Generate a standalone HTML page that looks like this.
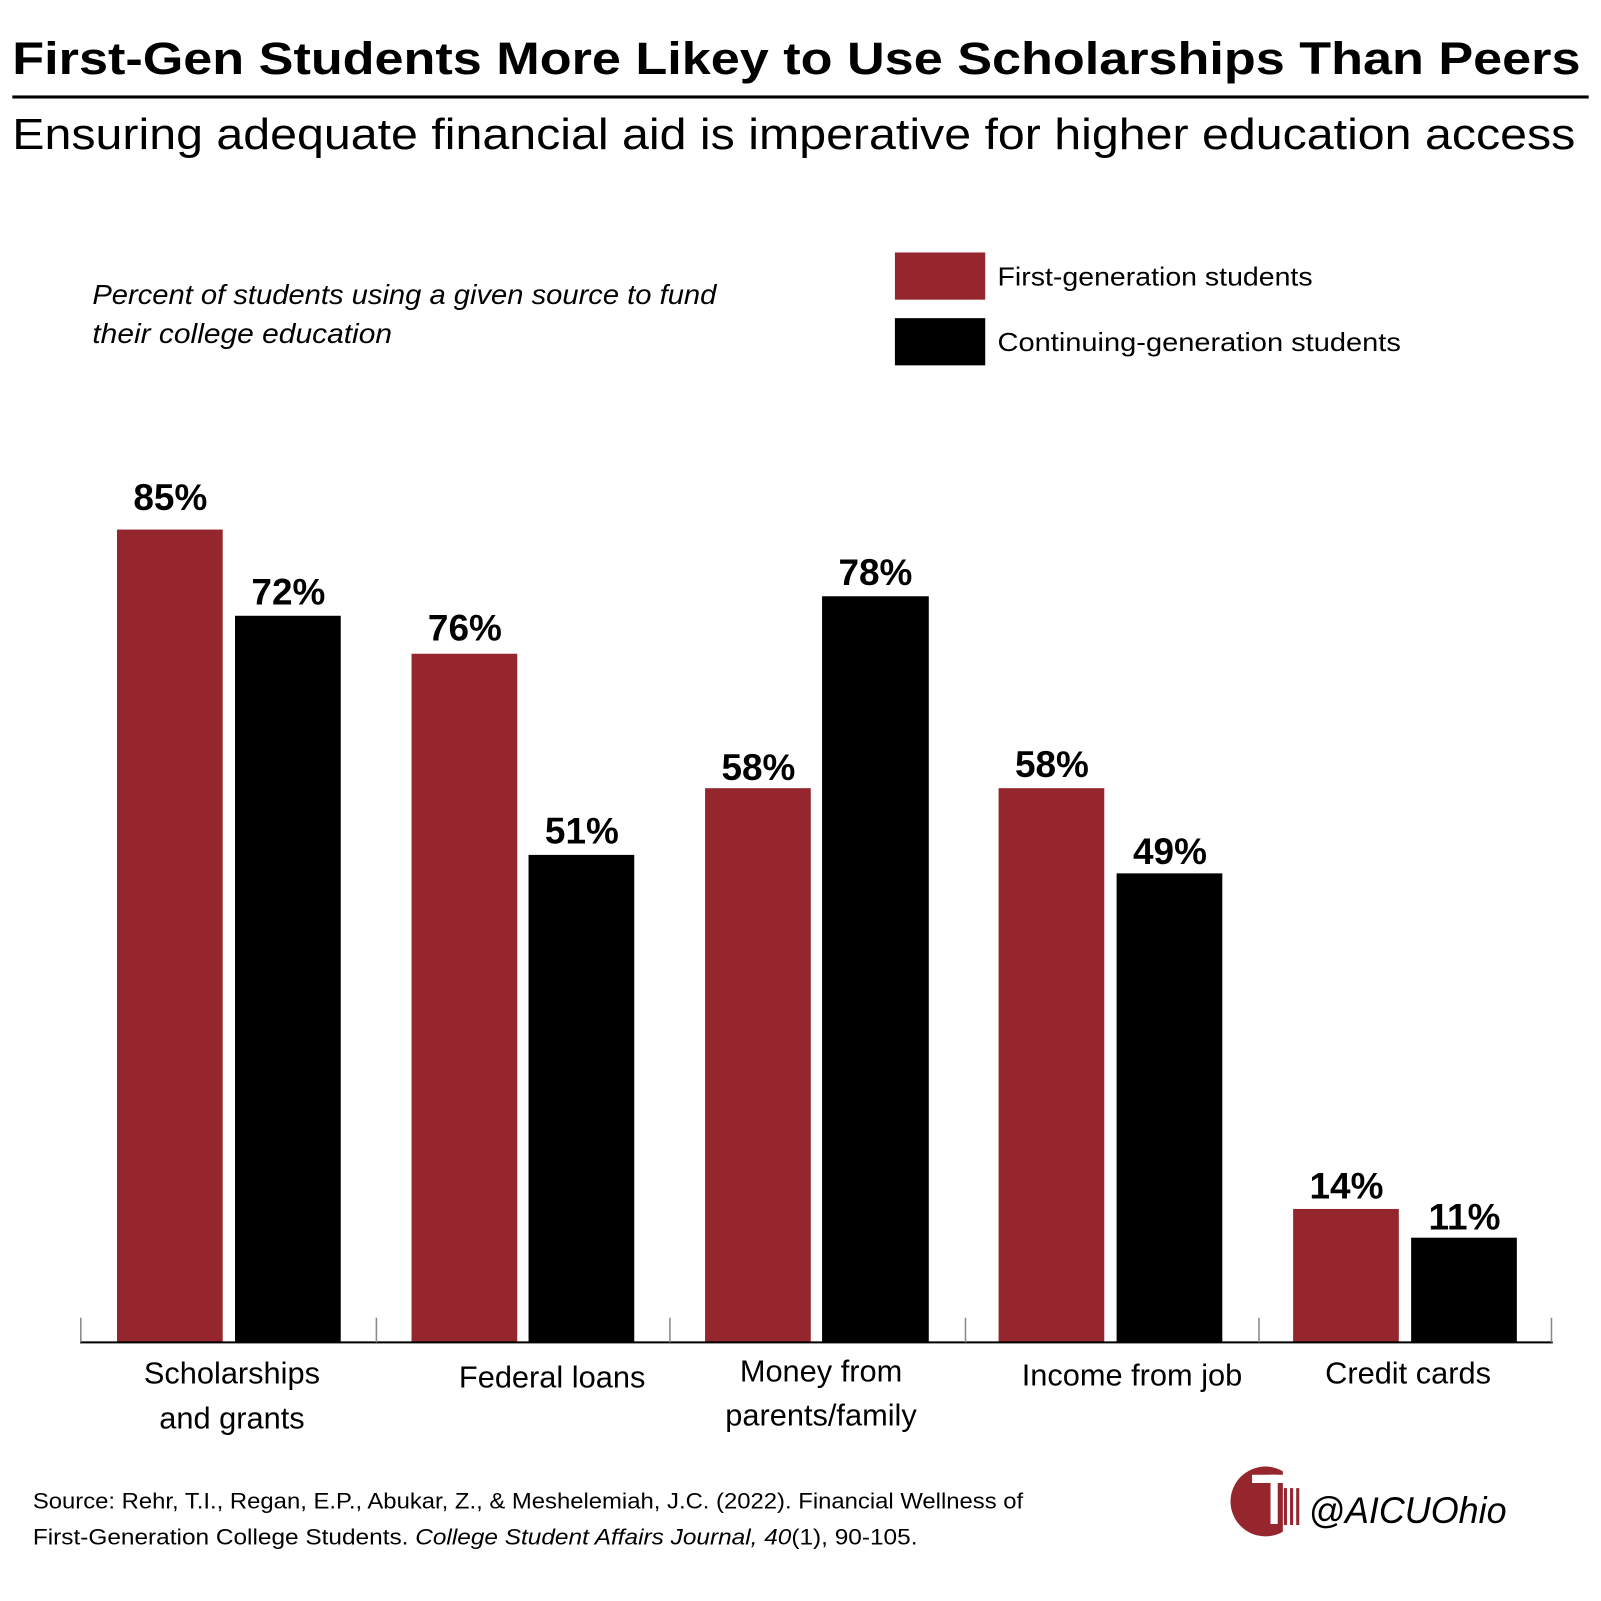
<!DOCTYPE html>
<html><head><style>
html,body{margin:0;padding:0;background:#fff;}
svg{display:block;}
text{font-family:"Liberation Sans",sans-serif;}
</style></head><body>
<svg width="1601" height="1601" viewBox="0 0 1560 1560" xmlns="http://www.w3.org/2000/svg">
<rect width="1560" height="1560" fill="#fff"/>
<text x="12" y="72" font-size="44" font-weight="bold" textLength="1528" lengthAdjust="spacingAndGlyphs">First-Gen Students More Likey to Use Scholarships Than Peers</text>
<rect x="12" y="93" width="1536" height="3" fill="#000"/>
<text x="12" y="145" font-size="42" textLength="1523" lengthAdjust="spacingAndGlyphs">Ensuring adequate financial aid is imperative for higher education access</text>
<text x="90" y="296" font-size="27" font-style="italic" textLength="608" lengthAdjust="spacingAndGlyphs">Percent of students using a given source to fund</text>
<text x="90" y="334" font-size="27" font-style="italic" textLength="292" lengthAdjust="spacingAndGlyphs">their college education</text>
<rect x="872" y="246" width="88" height="46" fill="#96262d"/>
<rect x="872" y="310" width="88" height="46" fill="#000"/>
<text x="972" y="278" font-size="25" textLength="307" lengthAdjust="spacingAndGlyphs">First-generation students</text>
<text x="972" y="342" font-size="25" textLength="393" lengthAdjust="spacingAndGlyphs">Continuing-generation students</text>
<g fill="#96262d">
<rect x="114" y="516" width="103" height="792"/>
<rect x="401" y="637" width="103" height="671"/>
<rect x="687" y="768" width="103" height="540"/>
<rect x="973" y="768" width="103" height="540"/>
<rect x="1260" y="1178" width="103" height="130"/>
</g>
<g fill="#000">
<rect x="229" y="600" width="103" height="708"/>
<rect x="515" y="833" width="103" height="475"/>
<rect x="801" y="581" width="104" height="727"/>
<rect x="1088" y="851" width="103" height="457"/>
<rect x="1375" y="1206" width="103" height="102"/>
</g>
<rect x="78" y="1307" width="1435" height="2" fill="#000"/>
<g fill="#888">
<rect x="78" y="1284" width="1.5" height="24"/>
<rect x="366" y="1284" width="1.5" height="24"/>
<rect x="652" y="1284" width="1.5" height="24"/>
<rect x="940" y="1284" width="1.5" height="24"/>
<rect x="1226" y="1284" width="1.5" height="24"/>
<rect x="1511" y="1284" width="1.5" height="24"/>
</g>
<g font-size="36" font-weight="bold" text-anchor="middle">
<text x="166" y="497">85%</text>
<text x="281" y="589">72%</text>
<text x="453" y="624">76%</text>
<text x="567" y="822">51%</text>
<text x="739" y="760">58%</text>
<text x="853" y="570">78%</text>
<text x="1025" y="757">58%</text>
<text x="1140" y="842">49%</text>
<text x="1312" y="1168">14%</text>
<text x="1427" y="1198">11%</text>
</g>
<g font-size="30" text-anchor="middle">
<text x="226" y="1348">Scholarships</text>
<text x="226" y="1392">and grants</text>
<text x="538" y="1352">Federal loans</text>
<text x="800" y="1346">Money from</text>
<text x="800" y="1389">parents/family</text>
<text x="1103" y="1350">Income from job</text>
<text x="1372" y="1348">Credit cards</text>
</g>
<text x="32" y="1470" font-size="22" textLength="965" lengthAdjust="spacingAndGlyphs">Source: Rehr, T.I., Regan, E.P., Abukar, Z., &amp; Meshelemiah, J.C. (2022). Financial Wellness of</text>
<text x="32" y="1505" font-size="22" textLength="862" lengthAdjust="spacingAndGlyphs">First-Generation College Students. <tspan font-style="italic">College Student Affairs Journal, 40</tspan>(1), 90-105.</text>
<circle cx="1233" cy="1463" r="34" fill="#96262d"/>
<rect x="1250" y="1425" width="25" height="72" fill="#fff"/>
<rect x="1220" y="1437" width="35" height="8" fill="#fff"/>
<rect x="1238" y="1437" width="7" height="48" fill="#fff"/>
<rect x="1251" y="1450" width="3" height="36" fill="#96262d"/>
<rect x="1257" y="1450" width="3" height="36" fill="#96262d"/>
<rect x="1263" y="1450" width="3" height="36" fill="#96262d"/>
<text x="1275" y="1484" font-size="36" font-style="italic" textLength="193" lengthAdjust="spacingAndGlyphs">@AICUOhio</text>
</svg>
</body></html>
